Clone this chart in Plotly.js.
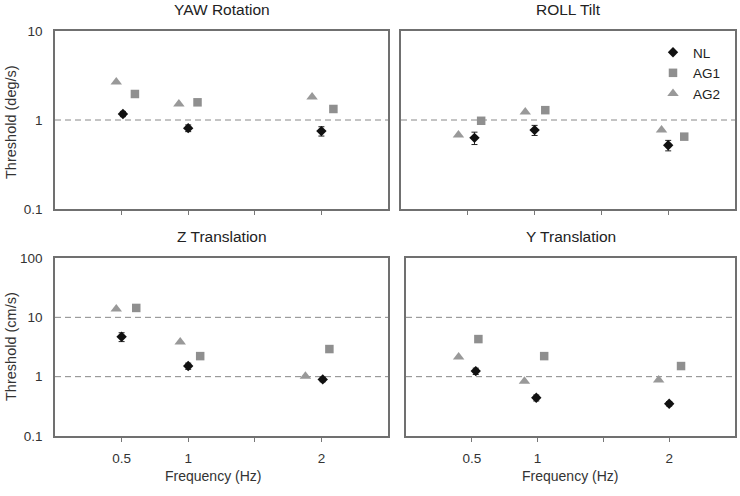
<!DOCTYPE html>
<html>
<head>
<meta charset="utf-8">
<script src="https://cdn.plot.ly/plotly-3.0.1.min.js"></script>
<style>
  body { margin: 0; background: #fff; }
  #graph { width: 740px; height: 496px; }
</style>
</head>
<body>
<div id="graph"></div>
<script>
// panel titles, in order: top-left, top-right, bottom-left, bottom-right
const panelTitles = ["YAW Rotation", "ROLL Tilt", "Z Translation", "Y Translation"];
const groupNames = ["NL", "AG1", "AG2"];

// x positions of each group (frequency, Hz, dodged a little)
const nlX = [[0.51, 1.0, 2.0], [0.55, 1.0, 2.0], [0.5, 1.0, 2.01], [0.53, 0.99, 2.0]];
const ag1X = [[0.6, 1.07, 2.09], [0.6, 1.08, 2.12], [0.61, 1.09, 2.06], [0.55, 1.05, 2.09]];
const ag2X = [[0.46, 0.93, 1.93], [0.43, 0.93, 1.95], [0.46, 0.94, 1.88], [0.4, 0.9, 1.92]];

// thresholds
const nlY = [[1.17, 0.81, 0.75], [0.63, 0.77, 0.52], [4.7, 1.51, 0.9], [1.24, 0.44, 0.35]];
const nlErr = [[0.08, 0.07, 0.09], [0.1, 0.1, 0.07], [0.8, 0.18, 0.08], [0.15, 0.05, 0.03]];
const ag1Y = [[1.96, 1.58, 1.33], [0.98, 1.29, 0.65], [14.4, 2.22, 2.92], [4.3, 2.22, 1.51]];
const ag2Y = [[2.67, 1.51, 1.81], [0.68, 1.23, 0.77], [13.8, 3.83, 1.02], [2.14, 0.84, 0.88]];

// dashed reference levels per panel
const refLevels = [[1], [1], [10, 1], [10, 1]];

const xTickVals = [0.5, 1, 1.5, 2];
const xTickText = ["0.5", "1", "", "2"];
const xRange = [0, 2.5];

const W = 740, H = 496;
const colBox = [[55, 388], [401, 735], [55, 388], [406, 735]];
const rowBox = [[31, 209], [31, 209], [258, 436], [258, 436]];

const font = "Liberation Sans, Arial, sans-serif";
const data = [];
const layout = {
  width: W, height: H,
  margin: {l: 0, r: 0, t: 0, b: 0},
  paper_bgcolor: "#fff", plot_bgcolor: "#fff",
  font: {family: font, size: 13, color: "#333"},
  showlegend: true,
  legend: {x: 653 / W, y: 1 - 37 / H, xanchor: "left", yanchor: "top",
           bgcolor: "rgba(0,0,0,0)", font: {size: 13.5, color: "#222"}},
  annotations: [],
};

panelTitles.forEach((title, i) => {
  const n = i === 0 ? "" : String(i + 1);
  const xa = "x" + n, ya = "y" + n;
  const bottom = i >= 2, left = i % 2 === 0;

  layout["xaxis" + n] = {
    domain: [colBox[i][0] / W, colBox[i][1] / W],
    anchor: ya, range: xRange, type: "linear",
    tickvals: xTickVals, ticktext: xTickText,
    showticklabels: bottom, ticks: "outside", ticklen: 4, tickcolor: "#777",
    ticklabelstandoff: 5,
    showgrid: false, zeroline: false,
    showline: true, mirror: true, linecolor: "#707070", linewidth: 1.8,
    tickfont: {size: 13.5, color: "#333"},
  };
  layout["yaxis" + n] = {
    domain: [1 - rowBox[i][1] / H, 1 - rowBox[i][0] / H],
    anchor: xa, type: "log",
    range: bottom ? [-1, 2] : [-1, 1],
    tickvals: bottom ? [0.1, 1, 10, 100] : [0.1, 1, 10],
    ticktext: bottom ? ["0.1", "1", "10", "100"] : ["0.1", "1", "10"],
    showticklabels: left, ticks: "", ticklabelstandoff: 8,
    showgrid: false, zeroline: false,
    showline: true, mirror: true, linecolor: "#707070", linewidth: 1.8,
    tickfont: {size: 13.5, color: "#333"},
  };

  refLevels[i].forEach(v => {
    data.push({x: xRange, y: [v, v], xaxis: xa, yaxis: ya, mode: "lines",
      line: {color: "#888", width: 1, dash: "6px,4px"}, showlegend: false, hoverinfo: "skip"});
  });

  data.push({x: ag1X[i], y: ag1Y[i], xaxis: xa, yaxis: ya, mode: "markers", name: groupNames[1],
    legendrank: 2, showlegend: i === 0,
    marker: {symbol: "square", size: 8.5, color: "#8f8f8f"}});
  data.push({x: ag2X[i], y: ag2Y[i], xaxis: xa, yaxis: ya, mode: "markers", name: groupNames[2],
    legendrank: 3, showlegend: i === 0,
    marker: {symbol: "triangle-up", size: 10, color: "#999"}});
  data.push({x: nlX[i], y: nlY[i], xaxis: xa, yaxis: ya, mode: "markers", name: groupNames[0],
    legendrank: 1, showlegend: i === 0,
    error_y: {type: "data", array: nlErr[i], color: "#222", thickness: 1, width: 3},
    marker: {symbol: "diamond", size: 8, color: "#111"}});

  layout.annotations.push({
    text: title, xref: "paper", yref: "paper",
    x: (colBox[i][0] + colBox[i][1]) / 2 / W, y: 1 - (rowBox[i][0] - 21) / H,
    xanchor: "center", yanchor: "middle", showarrow: false,
    font: {size: 15.5, color: "#222"},
  });
});

layout.annotations.push(
  {text: "Threshold (deg/s)", xref: "paper", yref: "paper", x: 11 / W, y: 1 - 122 / H,
   textangle: -90, showarrow: false, xanchor: "center", yanchor: "middle", font: {size: 14.5, color: "#333"}},
  {text: "Threshold (cm/s)", xref: "paper", yref: "paper", x: 11 / W, y: 1 - 347 / H,
   textangle: -90, showarrow: false, xanchor: "center", yanchor: "middle", font: {size: 14.5, color: "#333"}},
  {text: "Frequency (Hz)", xref: "paper", yref: "paper", x: 213 / W, y: 1 - 476 / H,
   showarrow: false, xanchor: "center", yanchor: "middle", font: {size: 14, color: "#333"}},
  {text: "Frequency (Hz)", xref: "paper", yref: "paper", x: 570 / W, y: 1 - 476 / H,
   showarrow: false, xanchor: "center", yanchor: "middle", font: {size: 14, color: "#333"}}
);

Plotly.newPlot("graph", data, layout, {staticPlot: true});
</script>
</body>
</html>
